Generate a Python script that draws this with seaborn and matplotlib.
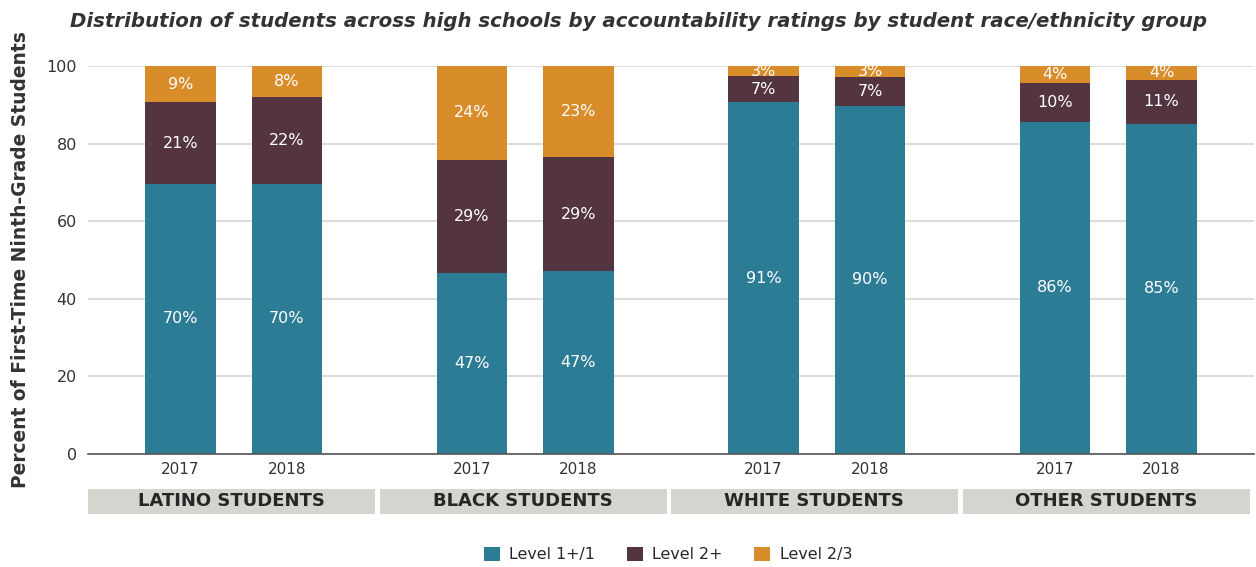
import numpy as np
import pandas as pd
import matplotlib
matplotlib.use("Agg")
import matplotlib.pyplot as plt
import matplotlib.transforms as mtransforms
from matplotlib.patches import Patch, Rectangle
import seaborn as sns

# data
groups = ["LATINO STUDENTS", "BLACK STUDENTS", "WHITE STUDENTS", "OTHER STUDENTS"]
years = ["2017", "2018"]
levels = ["Level 1+/1", "Level 2+", "Level 2/3"]
level1 = [69.6, 69.6, 46.6, 47.2, 90.6, 89.7, 85.6, 85.1]
level2 = [21.1, 22.4, 29.2, 29.3, 6.7, 7.4, 9.9, 11.3]
level3 = [9.3, 8.0, 24.2, 23.4, 2.8, 2.9, 4.4, 3.6]
yticks = [0, 20, 40, 60, 80, 100]

colors = {"Level 1+/1": "#2d7c96", "Level 2+": "#533440", "Level 2/3": "#d98c2a"}
title = ("Distribution of students across high schools by accountability "
         "ratings by student race/ethnicity group")

rows = []
i = 0
for g in groups:
    for y in years:
        rows.append({"group": g, "year": y,
                     "Level 1+/1": level1[i], "Level 2+": level2[i], "Level 2/3": level3[i]})
        i += 1
df = pd.DataFrame(rows)
df["cum1"] = df["Level 1+/1"]
df["cum2"] = df["cum1"] + df["Level 2+"]
df["cum3"] = df["cum2"] + df["Level 2/3"]

sns.set_style("white")
plt.rcParams["font.family"] = ["DejaVu Sans"]

fig = plt.figure(figsize=(12.56, 5.67), dpi=100)
ax = fig.add_axes([88 / 1256, 1 - 454 / 567, (1254 - 88) / 1256, 388 / 567])

# draw tallest stack first so shorter ones sit on top of it
layers = [("Level 2/3", "cum3"), ("Level 2+", "cum2"), ("Level 1+/1", "cum1")]
centers = {}
for lev, col in layers:
    sns.barplot(data=df, x="group", y=col, hue="year", order=groups, hue_order=years,
                palette=[colors[lev], colors[lev]], dodge=True, width=0.73, gap=0.34,
                saturation=1, legend=False, ax=ax, errorbar=None,
                linewidth=0, edgecolor="none")
    for yi, cont in enumerate(ax.containers[-2:]):
        for gi, bar in enumerate(cont):
            k = gi * 2 + yi
            xc = bar.get_x() + bar.get_width() / 2
            centers[k] = xc
            val = df.loc[k, lev]
            ax.text(xc, df.loc[k, col] - val / 2, f"{val:.0f}%", ha="center", va="center",
                    color="white", fontsize=11.5)

ax.set_xlim(-0.5, len(groups) - 0.5)
ax.set_ylim(0, 100)
ax.set_yticks(yticks)
ax.tick_params(axis="y", length=0, labelsize=11.5, labelcolor="#333333", pad=8)
ax.set_axisbelow(True)
ax.yaxis.grid(True, color="#d9d9d9", lw=1.3)
for s in ["top", "right", "left"]:
    ax.spines[s].set_visible(False)
ax.spines["bottom"].set_color("#555555")
ax.spines["bottom"].set_linewidth(1.2)

# year labels under each bar, separators between groups
ax.set_xticks([centers[k] for k in range(len(df))])
ax.set_xticklabels(df["year"].tolist(), fontsize=11, color="#333333")
ax.tick_params(axis="x", which="major", length=0, pad=6)
ax.set_xticks(np.arange(-0.5, len(groups)), minor=True)
ax.tick_params(axis="x", which="minor", length=15, width=1.2, color="#555555", direction="out")
ax.set_xlabel("")

ax.set_ylabel("Percent of First-Time Ninth-Grade Students", fontsize=13.4,
              fontweight="bold", color="#333333", labelpad=12)

trans = mtransforms.blended_transform_factory(ax.transData, ax.transAxes)
for gi, g in enumerate(groups):
    ax.add_patch(Rectangle((gi - 0.5, -0.155), 0.985, 0.066, transform=trans,
                           facecolor="#d5d5d0", edgecolor="none", clip_on=False))
    ax.text(gi - 0.008, -0.122, g, transform=trans, ha="center", va="center",
            fontsize=13, fontweight="bold", color="#262626")

fig.text(0.508, 0.962, title, ha="center", va="center", fontsize=14.2,
         style="italic", fontweight="bold", color="#333333")

handles = [Patch(facecolor=colors[l], edgecolor="none") for l in levels]
fig.legend(handles, levels, loc="center", bbox_to_anchor=(0.532, 0.022), ncol=3,
           frameon=False, fontsize=11.4, handlelength=1.0, handleheight=1.0,
           columnspacing=2.0, handletextpad=0.6)

fig.savefig("out.png", dpi=100)
